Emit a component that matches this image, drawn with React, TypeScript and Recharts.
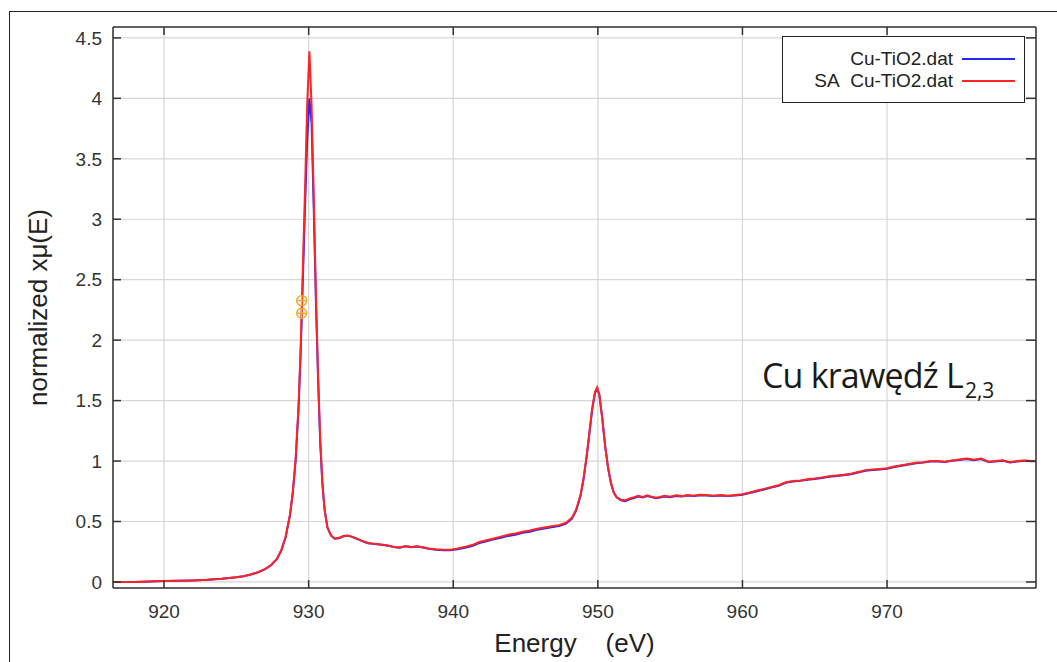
import React from 'react';
import { ComposedChart, Line, Scatter, XAxis, YAxis, CartesianGrid, Legend, Label } from 'recharts';

const energies = [
    916.5, 918, 919, 920, 921, 922, 923, 924, 925, 925.5, 926, 926.5, 927, 927.4, 927.8, 928.1, 928.4, 928.7, 928.9,
    929.1, 929.3, 929.45, 929.6, 929.75, 929.9, 930.05, 930.2, 930.35, 930.5, 930.65, 930.8, 930.95, 931.1, 931.3,
    931.55, 931.8, 932.1, 932.4, 932.7, 933.0, 933.3, 933.7, 934.1, 934.6, 935.0, 935.5, 935.9, 936.3, 936.7, 937.1,
    937.5, 937.9, 938.3, 938.8, 939.3, 939.8, 940.3, 940.8, 941.3, 941.8, 942.3, 942.8, 943.3, 943.8, 944.3, 944.8,
    945.3, 945.8, 946.3, 946.8, 947.3, 947.8, 948.2, 948.5, 948.8, 949.0, 949.2, 949.4, 949.6, 949.8, 949.95, 950.1,
    950.3, 950.5, 950.7, 950.9, 951.1, 951.3, 951.6, 951.9, 952.2, 952.5, 952.8, 953.1, 953.4, 953.7, 954.0, 954.3,
    954.6, 955.0, 955.4, 955.8, 956.2, 956.6, 957.0, 957.5, 958.0, 958.5, 959.0, 959.5, 960.0, 960.5, 961.0, 961.5,
    962.0, 962.5, 963.0, 963.5, 964.0, 964.5, 965.0, 965.5, 966.0, 966.5, 967.0, 967.5, 968.0, 968.5, 969.0, 969.5,
    970.0, 970.5, 971.0, 971.5, 972.0, 972.5, 973.0, 973.5, 974.0, 974.5, 975.0, 975.5, 976.0, 976.5, 977.0, 977.5,
    978.0, 978.5, 979.0, 979.5, 980.0, 980.3,
];

// Cu-TiO2.dat (blue)
const cuTiO2 = [
    0.0, 0.0, 0.004, 0.008, 0.01, 0.013, 0.018, 0.026, 0.038, 0.048, 0.062, 0.08, 0.106, 0.138, 0.188, 0.258, 0.365,
    0.545, 0.73, 1.0, 1.43, 1.9, 2.5, 3.1, 3.65, 4.0, 3.8, 3.1, 2.33, 1.68, 1.15, 0.81, 0.6, 0.45,
    0.383, 0.358, 0.362, 0.378, 0.383, 0.373, 0.358, 0.338, 0.32, 0.313, 0.308, 0.3, 0.288, 0.284, 0.295, 0.288,
    0.294, 0.285, 0.274, 0.267, 0.262, 0.262, 0.27, 0.283, 0.297, 0.322, 0.337, 0.352, 0.366, 0.381, 0.391, 0.406,
    0.416, 0.431, 0.441, 0.452, 0.463, 0.483, 0.522, 0.59, 0.71, 0.84, 1.01, 1.21, 1.42, 1.56, 1.6, 1.55,
    1.36, 1.13, 0.95, 0.82, 0.74, 0.7, 0.676, 0.668, 0.684, 0.695, 0.707, 0.698, 0.71, 0.702, 0.692, 0.698,
    0.707, 0.7, 0.711, 0.706, 0.715, 0.71, 0.716, 0.716, 0.71, 0.716, 0.71, 0.716, 0.722, 0.735, 0.75, 0.765,
    0.78, 0.795, 0.82, 0.83, 0.836, 0.845, 0.851, 0.86, 0.87, 0.876, 0.882, 0.891, 0.906, 0.92, 0.926, 0.931,
    0.936, 0.951, 0.961, 0.971, 0.981, 0.987, 0.997, 0.997, 0.992, 1.002, 1.009, 1.017, 1.007, 1.016, 0.992, 0.997,
    1.003, 0.988, 0.997, 1.002, 0.998, 0.998,
];

// SA Cu-TiO2.dat (red)
const saCuTiO2 = [
    0.0, 0.0, 0.004, 0.008, 0.01, 0.013, 0.018, 0.026, 0.038, 0.048, 0.062, 0.08, 0.108, 0.14, 0.19, 0.26, 0.37,
    0.55, 0.74, 1.02, 1.45, 1.95, 2.6, 3.25, 3.95, 4.39, 3.95, 3.2, 2.4, 1.72, 1.18, 0.82, 0.6, 0.45,
    0.385, 0.36, 0.365, 0.38, 0.385, 0.375, 0.36, 0.34, 0.322, 0.315, 0.31, 0.302, 0.29, 0.286, 0.297, 0.29,
    0.296, 0.287, 0.277, 0.27, 0.266, 0.266, 0.276, 0.29, 0.305, 0.33, 0.345, 0.36, 0.375, 0.39, 0.4, 0.415,
    0.425, 0.44, 0.45, 0.46, 0.47, 0.49, 0.53, 0.6, 0.72, 0.85, 1.02, 1.22, 1.43, 1.57, 1.61, 1.55,
    1.36, 1.13, 0.95, 0.82, 0.74, 0.7, 0.68, 0.675, 0.69, 0.7, 0.712, 0.702, 0.716, 0.706, 0.696, 0.702,
    0.712, 0.705, 0.716, 0.71, 0.72, 0.714, 0.721, 0.72, 0.714, 0.72, 0.714, 0.72, 0.726, 0.74, 0.756, 0.77,
    0.785, 0.8, 0.825, 0.835, 0.84, 0.85, 0.856, 0.865, 0.875, 0.88, 0.886, 0.895, 0.91, 0.925, 0.93, 0.935,
    0.94, 0.955, 0.965, 0.975, 0.985, 0.99, 1.0, 1.0, 0.995, 1.005, 1.012, 1.02, 1.01, 1.02, 0.995, 1.0,
    1.006, 0.99, 1.0, 1.005, 1.0, 1.0,
];

// marked points (orange crosshair circles)
const markEnergies = [929.52, 929.52];
const markValues = [2.327, 2.222];

const xTicks = [920, 930, 940, 950, 960, 970];
const yTicks = [0, 0.5, 1, 1.5, 2, 2.5, 3, 3.5, 4, 4.5];

const data = energies.map((e, i) => ({ energy: e, cu: cuTiO2[i], sa: saCuTiO2[i] }));
const marks = markEnergies.map((e, i) => ({ energy: e, mark: markValues[i] }));

const BLUE = '#2626ff';
const RED = '#ff2424';
const AXIS = '#333';
const FONT = '"Liberation Sans", Arial, sans-serif';

const MarkShape = (props: any) => {
    const { cx, cy } = props;
    return (
        <g stroke="#f2a81d" strokeWidth={1.4} fill="none">
            <circle cx={cx} cy={cy} r={5} />
            <line x1={cx - 5} y1={cy} x2={cx + 5} y2={cy} />
            <line x1={cx} y1={cy - 5} x2={cx} y2={cy + 5} />
        </g>
    );
};

const legendNames: Record<string, string> = {
    cu: 'Cu-TiO2.dat',
    sa: 'SA\u00a0\u00a0Cu-TiO2.dat',
};

const LegendBox = (props: any) => {
    const items = (props.payload || []).filter((p: any) => legendNames[p.dataKey]);
    return (
        <div
            style={{
                width: 243,
                height: 67,
                boxSizing: 'border-box',
                border: '1.5px solid #222',
                background: '#fff',
                paddingTop: 11,
                fontFamily: FONT,
                fontSize: 19,
                color: '#222',
            }}
        >
            {items.map((p: any) => (
                <div key={p.dataKey} style={{ display: 'flex', alignItems: 'center', height: 22 }}>
                    <span style={{ width: 170, textAlign: 'right', whiteSpace: 'pre' }}>{legendNames[p.dataKey]}</span>
                    <span style={{ width: 53, height: 2, marginLeft: 9, background: p.color }} />
                </div>
            ))}
        </div>
    );
};

export default function App() {
    return (
        <div style={{ position: 'absolute', left: 0, top: 0, width: 1057, height: 662, overflow: 'hidden', background: '#fff' }}>
            <div
                style={{
                    position: 'absolute',
                    left: 9,
                    top: 11,
                    width: 1100,
                    height: 700,
                    borderTop: '1.5px solid #222',
                    borderLeft: '1.5px solid #222',
                }}
            />
            <ComposedChart
                width={1057}
                height={662}
                data={data}
                margin={{ top: 26, right: 20, bottom: 34, left: 53 }}
                style={{ position: 'absolute', left: 0, top: 0 }}
            >
                <CartesianGrid stroke="#d6d6d6" strokeWidth={1.2} />
                <XAxis
                    dataKey="energy"
                    type="number"
                    domain={[916.47, 980.3]}
                    ticks={xTicks}
                    allowDataOverflow
                    height={40}
                    tickSize={-8}
                    tickMargin={25}
                    axisLine={{ stroke: AXIS, strokeWidth: 1.5 }}
                    tickLine={{ stroke: AXIS, strokeWidth: 1.5 }}
                    tick={{ fill: '#333', fontSize: 19, fontFamily: FONT }}
                >
                    <Label
                        content={(p: any) => (
                            <text
                                x={p.viewBox.x + p.viewBox.width / 2}
                                y={p.viewBox.y + 64}
                                textAnchor="middle"
                                fontFamily={FONT}
                                fontSize={26}
                                fill="#222"
                            >
                                {'Energy\u00a0\u00a0\u00a0\u00a0(eV)'}
                            </text>
                        )}
                    />
                </XAxis>
                <XAxis
                    xAxisId="top"
                    orientation="top"
                    dataKey="energy"
                    type="number"
                    domain={[916.47, 980.3]}
                    ticks={xTicks}
                    allowDataOverflow
                    height={1}
                    tickSize={-8}
                    tickFormatter={() => ''}
                    axisLine={{ stroke: AXIS, strokeWidth: 1.5 }}
                    tickLine={{ stroke: AXIS, strokeWidth: 1.5 }}
                />
                <YAxis
                    type="number"
                    domain={[-0.05, 4.59]}
                    ticks={yTicks}
                    allowDataOverflow
                    width={60}
                    tickSize={-8}
                    tickMargin={19}
                    axisLine={{ stroke: AXIS, strokeWidth: 1.5 }}
                    tickLine={{ stroke: AXIS, strokeWidth: 1.5 }}
                    tick={{ fill: '#333', fontSize: 19, fontFamily: FONT }}
                >
                    <Label
                        content={(p: any) => {
                            const cx = p.viewBox.x - 6;
                            const cy = p.viewBox.y + p.viewBox.height / 2;
                            return (
                                <text
                                    transform={`translate(${cx}, ${cy}) rotate(-90)`}
                                    textAnchor="middle"
                                    fontFamily={FONT}
                                    fontSize={26}
                                    fill="#222"
                                >
                                    normalized xμ(E)
                                </text>
                            );
                        }}
                    />
                </YAxis>
                <YAxis
                    yAxisId="right"
                    orientation="right"
                    type="number"
                    domain={[-0.05, 4.59]}
                    ticks={yTicks}
                    allowDataOverflow
                    width={1}
                    tickSize={-10}
                    tickFormatter={() => ''}
                    axisLine={{ stroke: AXIS, strokeWidth: 1.5 }}
                    tickLine={{ stroke: AXIS, strokeWidth: 1.5 }}
                />
                <Legend
                    layout="vertical"
                    align="center"
                    verticalAlign="middle"
                    content={<LegendBox />}
                    wrapperStyle={{ left: 782, top: 36, width: 243, height: 67 }}
                />
                <Line
                    dataKey="cu"
                    name="Cu-TiO2.dat"
                    type="linear"
                    stroke={BLUE}
                    strokeWidth={2}
                    dot={false}
                    activeDot={false}
                    isAnimationActive={false}
                />
                <Line
                    dataKey="sa"
                    name="SA  Cu-TiO2.dat"
                    type="linear"
                    stroke={RED}
                    strokeWidth={2}
                    dot={false}
                    activeDot={false}
                    isAnimationActive={false}
                />
                <Scatter
                    data={marks}
                    dataKey="mark"
                    legendType="none"
                    shape={<MarkShape />}
                    isAnimationActive={false}
                />
            </ComposedChart>
            <svg width={1057} height={662} style={{ position: 'absolute', left: 0, top: 0, pointerEvents: 'none' }}>
                <text
                    x={762}
                    y={388}
                    fontFamily='"Open Sans", "Noto Sans", sans-serif'
                    fontSize={34}
                    letterSpacing={-0.8}
                    fill="#1a1a1a"
                >
                    Cu krawędź L
                    <tspan dx={2} dy={10} fontSize={21} letterSpacing={0}>2,3</tspan>
                </text>
            </svg>
        </div>
    );
}
